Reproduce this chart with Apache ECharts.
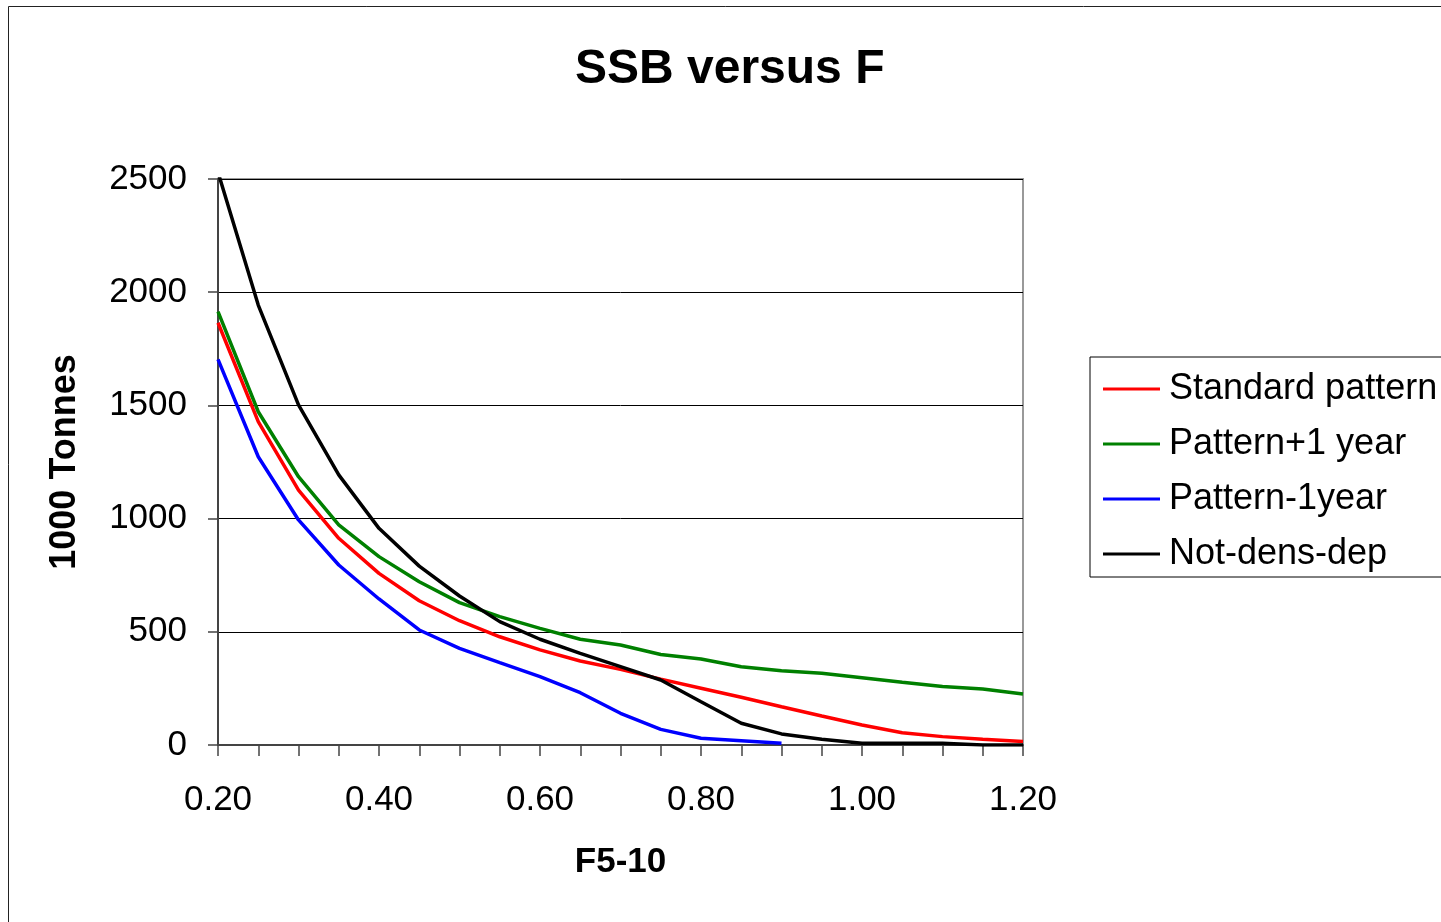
<!DOCTYPE html>
<html lang="en">
<head>
  <meta charset="UTF-8">
  <title>SSB versus F</title>
  <style>
    html, body { margin: 0; padding: 0; background: #fff; }
    #main { width: 1441px; height: 922px; }
  </style>
</head>
<body>
<div id="main"></div>
<script src="https://cdn.jsdelivr.net/npm/echarts@6/dist/echarts.min.js"></script>
<script>
  // F5-10 values on the x axis
  var fValues = ['0.20', '0.25', '0.30', '0.35', '0.40', '0.45', '0.50', '0.55', '0.60', '0.65', '0.70',
                 '0.75', '0.80', '0.85', '0.90', '0.95', '1.00', '1.05', '1.10', '1.15', '1.20'];

  // SSB, 1000 tonnes
  var standardPattern = [1865, 1428, 1126, 913, 758, 637, 549, 478, 420, 371, 334,
                         291, 251, 211, 169, 128, 88, 54, 37, 25, 16];
  var patternPlus1 = [1914, 1472, 1185, 972, 832, 721, 629, 567, 515, 467, 442,
                      400, 380, 346, 328, 317, 297, 277, 258, 247, 225];
  var patternMinus1 = [1703, 1273, 994, 795, 645, 508, 427, 364, 302, 231, 140,
                       69, 30, 19, 8];
  var notDensDep = [2530, 1943, 1502, 1193, 957, 790, 658, 545, 467, 405, 346,
                    287, 191, 96, 49, 25, 8, 8, 8, 0, 0];

  var seriesNames = ['Standard pattern', 'Pattern+1 year', 'Pattern-1year', 'Not-dens-dep'];
  var seriesData = [standardPattern, patternPlus1, patternMinus1, notDensDep];
  var colors = ['#ff0000', '#008000', '#0000ff', '#000000'];

  var font = '"Liberation Sans", Arial, sans-serif';

  var chart = echarts.init(document.getElementById('main'));

  var series = seriesNames.map(function (name, i) {
    return {
      name: name,
      type: 'line',
      data: seriesData[i],
      symbol: 'none',
      clip: true,
      color: colors[i],
      lineStyle: { color: colors[i], width: 3.5 },
      itemStyle: { color: colors[i] }
    };
  });

  chart.setOption({
    backgroundColor: '#fff',
    animation: false,
    graphic: [{
      type: 'rect',
      shape: { x: 8.5, y: 6.5, width: 1600, height: 1000 },
      style: { fill: 'none', stroke: '#222', lineWidth: 1 },
      silent: true
    }],
    title: {
      text: 'SSB versus F',
      left: 575,
      top: 46,
      padding: 0,
      textStyle: { fontFamily: font, fontSize: 48, fontWeight: 'bold', color: '#000' }
    },
    legend: {
      orient: 'vertical',
      left: 1090,
      top: 357,
      padding: [14, 13, 5, 13],
      itemGap: 19,
      itemWidth: 57,
      itemHeight: 3,
      icon: 'rect',
      borderColor: '#000',
      borderWidth: 1,
      borderRadius: 0,
      data: seriesNames,
      textStyle: { fontFamily: font, fontSize: 36, color: '#000', padding: [0, 0, 0, 4] }
    },
    grid: {
      left: 218,
      top: 179,
      right: 418,
      bottom: 177,
      show: true,
      borderColor: '#999',
      borderWidth: 2,
      containLabel: false
    },
    xAxis: {
      type: 'category',
      data: fValues,
      boundaryGap: false,
      name: 'F5-10',
      nameLocation: 'middle',
      nameGap: 100,
      nameTextStyle: { fontFamily: font, fontSize: 35, fontWeight: 'bold', color: '#000' },
      axisLine: { lineStyle: { color: '#444', width: 2 } },
      axisTick: { show: true, interval: 0, length: 11, inside: false, lineStyle: { color: '#444', width: 1.5 } },
      axisLabel: { interval: 3, margin: 38, fontFamily: font, fontSize: 35, color: '#000' },
      splitLine: { show: false }
    },
    yAxis: {
      type: 'value',
      min: 0,
      max: 2500,
      interval: 500,
      name: '1000 Tonnes',
      nameLocation: 'middle',
      nameGap: 135,
      nameTextStyle: { fontFamily: font, fontSize: 36, fontWeight: 'bold', color: '#000' },
      axisLine: { show: true, lineStyle: { color: '#444', width: 2 } },
      axisTick: { show: true, length: 10, inside: false, lineStyle: { color: '#444', width: 1.5 } },
      axisLabel: {
        margin: 31,
        fontFamily: font,
        fontSize: 35,
        color: '#000',
        formatter: function (v) { return String(v); }
      },
      splitLine: { show: true, lineStyle: { color: '#000', width: 1 } }
    },
    series: series
  });
</script>
</body>
</html>
